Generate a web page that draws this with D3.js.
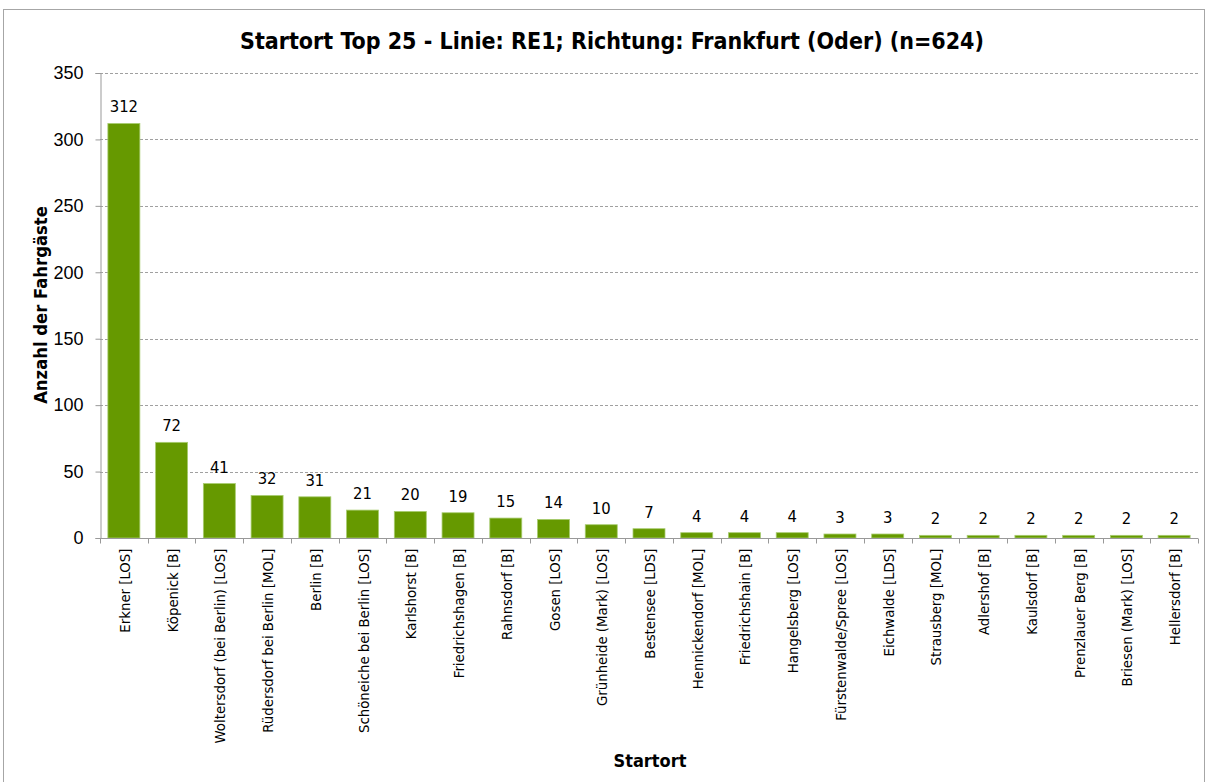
<!DOCTYPE html>
<html><head><meta charset="utf-8">
<script src="https://cdn.jsdelivr.net/npm/d3@7"></script>
<style>
body{margin:0;background:#fff;}
svg{display:block;font-family:"DejaVu Sans Condensed","DejaVu Sans",sans-serif;}
</style></head>
<body><svg id="chart" width="1208" height="782"></svg>
<script>
const categories = ["Erkner [LOS]","Köpenick [B]","Woltersdorf (bei Berlin) [LOS]","Rüdersdorf bei Berlin [MOL]","Berlin [B]","Schöneiche bei Berlin [LOS]","Karlshorst [B]","Friedrichshagen [B]","Rahnsdorf [B]","Gosen [LOS]","Grünheide (Mark) [LOS]","Bestensee [LDS]","Hennickendorf [MOL]","Friedrichshain [B]","Hangelsberg [LOS]","Fürstenwalde/Spree [LOS]","Eichwalde [LDS]","Strausberg [MOL]","Adlershof [B]","Kaulsdorf [B]","Prenzlauer Berg [B]","Briesen (Mark) [LOS]","Hellersdorf [B]"];
const values = [312,72,41,32,31,21,20,19,15,14,10,7,4,4,4,3,3,2,2,2,2,2,2];
const yTicks = [0,50,100,150,200,250,300,350];
const titleText = "Startort Top 25 - Linie: RE1; Richtung: Frankfurt (Oder) (n=624)";
const yTitle = "Anzahl der Fahrgäste";
const xTitle = "Startort";

const svg = d3.select("#chart");
const pLeft = 100, pRight = 1198, pTop = 73, pBottom = 538;

svg.append("rect").attr("x",3.5).attr("y",9.5).attr("width",1201).attr("height",800)
  .attr("fill","#fff").attr("stroke","#a6a6a6").attr("stroke-width",1);

const x = d3.scaleBand().domain(categories).range([pLeft,pRight]).paddingInner(0.33).paddingOuter(0.165);
const y = d3.scaleLinear().domain([0,350]).range([pBottom,pTop]);

// gridlines
svg.append("g").selectAll("line").data(yTicks.filter(d=>d>0)).join("line")
  .attr("x1",pLeft).attr("x2",pRight)
  .attr("y1",d=>Math.round(y(d))+0.5).attr("y2",d=>Math.round(y(d))+0.5)
  .attr("stroke","#a0a0a0").attr("stroke-dasharray","3,2").attr("stroke-width",1);

// bars
svg.append("g").selectAll("rect").data(values).join("rect")
  .attr("x",(d,i)=>x(categories[i]))
  .attr("y",d=>y(d))
  .attr("width",x.bandwidth())
  .attr("height",d=>y(0)-y(d))
  .attr("fill","#669900").attr("stroke","#a8cc70").attr("stroke-width",0.8);

// value labels
svg.append("g").selectAll("text").data(values).join("text")
  .attr("x",(d,i)=>x(categories[i])+x.bandwidth()/2)
  .attr("y",d=>y(d)-11)
  .attr("text-anchor","middle").attr("font-size",16.5).attr("fill","#000")
  .text(d=>d);

// y axis
const yAxis = d3.axisLeft(y).tickValues(yTicks).tickSize(5).tickPadding(12);
const gy = svg.append("g").attr("transform",`translate(${pLeft+0.5},0)`).call(yAxis);
gy.select(".domain").attr("stroke","#999");
gy.selectAll(".tick line").attr("stroke","#999");
gy.selectAll(".tick text").attr("font-size",18).attr("font-family","inherit").attr("fill","#000");

// x axis with ticks at category boundaries
const gx = svg.append("g").attr("transform",`translate(0,${pBottom+0.5})`);
gx.append("line").attr("x1",pLeft).attr("x2",pRight).attr("stroke","#999");
const bounds = d3.range(categories.length+1).map(i=>pLeft+i*(pRight-pLeft)/categories.length);
gx.selectAll("line.t").data(bounds).join("line").attr("class","t")
  .attr("x1",d=>Math.round(d)+0.5).attr("x2",d=>Math.round(d)+0.5).attr("y1",0).attr("y2",5).attr("stroke","#999");
gx.selectAll("text").data(categories).join("text")
  .attr("transform",d=>`translate(${x(d)+x.bandwidth()/2+6},10) rotate(-90)`)
  .attr("text-anchor","end").attr("font-size",14.8).attr("fill","#000")
  .text(d=>d);

// titles
svg.append("text").attr("x",612).attr("y",49).attr("text-anchor","middle")
  .attr("font-size",23).attr("font-weight","bold").text(titleText);
svg.append("text").attr("transform",`translate(47,305) rotate(-90)`).attr("text-anchor","middle")
  .attr("font-size",18.3).attr("font-weight","bold").text(yTitle);
svg.append("text").attr("x",650).attr("y",767).attr("text-anchor","middle")
  .attr("font-size",18).attr("font-weight","bold").text(xTitle);
</script></body></html>
